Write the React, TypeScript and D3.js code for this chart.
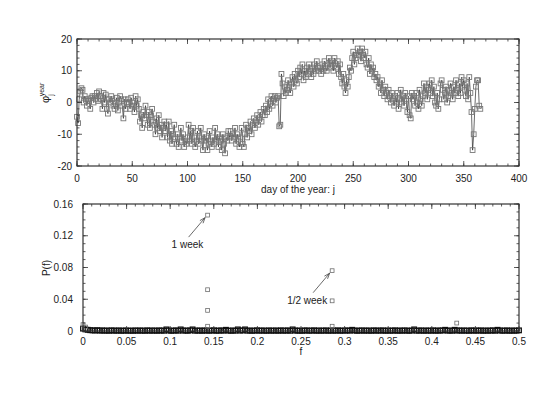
import React from "react";
import * as d3 from "d3";

// ---- Top panel: daily values phi_j^year, days 0..365 ----
const dailyPhi: number[] = [
  -4.5, -6.5, 1, 3.5, 4.5, 4, 0, 2, 1, -1,
  1, 0.5, -2, 1.5, 2, 0, 2, 1, 3, 0.5,
  3.5, 2, 1, -2, 3, 0, 2.5, -2, -3.5, 1,
  0, 2, 1, -1, -2, 0, 1.5, -2.5, 0, 2,
  1, -1, -5, 1, -2, 0, 1, 0, -2, 1.5,
  0, -1, -3, 2, -1, 1, -2, -6, -4, -8,
  -3, -5, -1, -4, -7, -3, -8, -4, -2, -6,
  -7, -10, -5, -8, -4, -9, -7, -11, -8, -6,
  -9, -7, -11, -6, -12, -9, -13, -10, -7, -11,
  -13, -10, -14, -11, -8, -12, -10, -14, -12, -13,
  -11, -7, -12, -9, -13, -8, -11, -14, -12, -9,
  -13, -11, -8, -12, -15, -10, -12, -11, -15, -13,
  -9, -12, -14, -11, -13, -8, -12, -10, -14, -11,
  -12, -15, -10, -13, -16, -11, -12, -9, -11, -9,
  -12, -10, -11, -8, -13, -10, -12, -14, -11, -8,
  -13, -14, -10, -7, -11, -8, -9, -6, -10, -7,
  -5, -8, -6, -4, -7, -5, -3, -6, -4, -2,
  -4, -1, -3, 1, -2, 0, 2, -1, 1, 2,
  0, 1.5, 2, -7.5, -7, 9, 6, 2, 5, 3,
  4, 7, 5, 3, 6, 8, 5, 9, 7, 6,
  10, 8, 11, 9, 12, 7, 10, 8, 11, 9,
  12, 10, 8, 11, 9, 12, 10, 13, 11, 10,
  11, 9, 12, 10, 13, 11, 10, 12, 14, 11,
  12, 13, 10, 14, 12, 11, 13, 9, 12, 8,
  6, 9, 5, 3, 7, 5, 8, 11, 10, 14,
  16, 12, 14, 15, 17, 15, 16, 13, 17, 15,
  14, 16, 12, 11, 14, 9, 12, 10, 11, 8,
  9, 7, 8, 5, 6, 3, 7, 4, 2, 5,
  3, 1, 4, 2, 0, 3, 1, -1, 2, 0,
  3, -2, 1, 4, 0, 2, -1, 3, 1, -3,
  2, -4, -5, 3, 1, 2, -1, 3, 0, -2,
  4, 1, -1, 2, 6, 3, 5, 1, 4, 6,
  3, 7, 2, 5, 0, -1, 3, -2, 1, 6,
  7, 4, 1, 3, 5, 0, 2, 4, 6, 3,
  1, 5, 3, 7, 4, 2, 6, 3, 8, 5,
  7, 4, 2, 6, 1, 8, 3, -3, -15, -10,
  -2, 5, 7, 7, -1, -2,
];

const topXTicks = [0, 50, 100, 150, 200, 250, 300, 350, 400];
const topYTicks = [-20, -10, 0, 10, 20];

// ---- Bottom panel: power spectrum P(f) ----
// background spectrum, in units of 1e-3, at f = k/366, k = 0..183
const bgPowerMilli: number[] = [
  3, 2, 1.5, 1, 0.8, 0.6, 1, 0.5, 0.7, 0.4, 0.6, 0.3, 0.8, 0.5, 0.4, 0.7, 0.3, 0.5, 0.6, 0.4,
  0.5, 0.3, 0.7, 0.4, 0.6, 0.5, 0.3, 0.8, 0.4, 0.5, 0.6, 0.3, 0.7, 0.5, 0.4, 2, 0.6, 0.3, 0.5, 0.7,
  0.4, 2, 0.5, 0.6, 0.3, 0.8, 2, 0.4, 0.5, 0.6, 0.3, 0.7, 0.5, 0.4, 0.6, 0.8, 0.3, 0.5, 0.7, 0.4,
  1.5, 0.5, 0.3, 0.6, 0.4, 2, 0.5, 0.7, 2, 0.4, 0.6, 0.3, 0.5, 0.8, 0.4, 0.6, 0.5, 0.3, 0.7, 0.4,
  0.5, 0.6, 0.3, 0.8, 0.4, 0.5, 0.7, 0.3, 2, 0.6, 0.4, 0.5, 0.3, 0.7, 0.6, 0.4, 0.5, 0.8, 0.3, 0.6,
  0.4, 0.5, 0.7, 0.3, 0.6, 0.5, 0.4, 0.8, 0.3, 0.6, 0.5, 0.7, 0.4, 1.5, 0.6, 0.3, 0.5, 0.7, 0.4, 0.6,
  0.5, 0.3, 0.8, 0.4, 0.6, 0.5, 0.7, 0.3, 0.6, 0.4, 0.5, 0.8, 0.3, 0.6, 0.4, 0.7, 0.5, 0.3, 0.6, 2,
  0.4, 0.5, 0.7, 0.3, 0.6, 0.5, 0.4, 0.8, 0.3, 0.6, 0.5, 0.7, 1.5, 0.4, 0.6, 0.3, 1.5, 0.5, 0.7, 0.4,
  0.6, 0.5, 0.3, 0.8, 0.4, 0.6, 0.5, 0.7, 0.3, 0.6, 0.4, 0.5, 0.8, 0.3, 1.5, 0.6, 0.4, 0.5, 0.7, 0.3,
  0.6, 0.4, 0.5, 0.8,
];
const N_DAYS = 366;

const peakFreq = [0, 0.003, 0.1429, 0.1429, 0.1429, 0.1429, 0.2857, 0.2857, 0.2857, 0.4286];
const peakPower = [0.008, 0.005, 0.146, 0.052, 0.026, 0.006, 0.076, 0.038, 0.006, 0.01];

const botXTicks = [0, 0.05, 0.1, 0.15, 0.2, 0.25, 0.3, 0.35, 0.4, 0.45, 0.5];
const botXLabels = ["0", "0.05", "0.1", "0.15", "0.2", "0.25", "0.3", "0.35", "0.4", "0.45", "0.5"];
const botYTicks = [0, 0.04, 0.08, 0.12, 0.16];
const botYLabels = ["0", "0.04", "0.08", "0.12", "0.16"];

const annotations = [
  { label: "1 week", f: 0.1429, p: 0.146 },
  { label: "1/2 week", f: 0.2857, p: 0.076 },
];

const FONT = "'Liberation Sans', Arial, Helvetica, sans-serif";
const TXT = "#222";
const FRAME = "#333";

type Frame = { l: number; r: number; t: number; b: number };

function FrameTicks({
  fr, xs, ys, xMajor, xMinor, yMajor, yMinor,
}: {
  fr: Frame; xs: d3.ScaleLinear<number, number>; ys: d3.ScaleLinear<number, number>;
  xMajor: number[]; xMinor: number[]; yMajor: number[]; yMinor: number[];
}) {
  const M = 5, m = 2.5;
  const lines: JSX.Element[] = [];
  let i = 0;
  const addX = (v: number, len: number) => {
    const x = xs(v);
    lines.push(<line key={i++} x1={x} x2={x} y1={fr.b} y2={fr.b - len} />);
    lines.push(<line key={i++} x1={x} x2={x} y1={fr.t} y2={fr.t + len} />);
  };
  const addY = (v: number, len: number) => {
    const y = ys(v);
    lines.push(<line key={i++} x1={fr.l} x2={fr.l + len} y1={y} y2={y} />);
    lines.push(<line key={i++} x1={fr.r} x2={fr.r - len} y1={y} y2={y} />);
  };
  xMinor.forEach((v) => addX(v, m));
  xMajor.forEach((v) => addX(v, M));
  yMinor.forEach((v) => addY(v, m));
  yMajor.forEach((v) => addY(v, M));
  return (
    <g stroke={FRAME} strokeWidth={0.8}>
      {lines}
      <rect x={fr.l} y={fr.t} width={fr.r - fr.l} height={fr.b - fr.t} fill="none" strokeWidth={1.2} />
    </g>
  );
}

export default function App() {
  const W = 548, H = 393;

  // top panel
  const tf: Frame = { l: 77, r: 519, t: 39, b: 166 };
  const tx = d3.scaleLinear().domain([0, 400]).range([tf.l, tf.r]);
  const ty = d3.scaleLinear().domain([-20, 20]).range([tf.b, tf.t]);
  const topLine = d3.line<number>().x((_, i) => tx(i)).y((d) => ty(d))(dailyPhi) || "";

  // bottom panel
  const bf: Frame = { l: 83, r: 519, t: 204, b: 331 };
  const bx = d3.scaleLinear().domain([0, 0.5]).range([bf.l, bf.r]);
  const by = d3.scaleLinear().domain([0, 0.16]).range([bf.b, bf.t]);

  const topXMinor = d3.range(0, 401, 10);
  const topYMinor = d3.range(-20, 21, 2);
  const botXMinor = d3.range(0, 51, 1).map((v) => v / 100);
  const botYMinor = d3.range(0, 17, 1).map((v) => v / 100);

  const bgPts = bgPowerMilli.map((p, k) => ({ f: k / N_DAYS, p: p / 1000 }));
  const pkPts = peakFreq.map((f, i) => ({ f, p: peakPower[i] }));

  const s1 = 4.8; // top square size
  const s2 = 3.8; // bottom square size
  const s3 = 4.6; // background band square size

  const arrow = (x1: number, y1: number, x2: number, y2: number, key: string) => {
    const ang = Math.atan2(y2 - y1, x2 - x1);
    const L = 6, a = 0.35;
    const p1 = [x2 - L * Math.cos(ang - a), y2 - L * Math.sin(ang - a)];
    const p2 = [x2 - L * Math.cos(ang + a), y2 - L * Math.sin(ang + a)];
    return (
      <g key={key} stroke="#444" strokeWidth={0.8} fill="none">
        <line x1={x1} y1={y1} x2={x2} y2={y2} />
        <polyline points={`${p1[0]},${p1[1]} ${x2},${y2} ${p2[0]},${p2[1]}`} />
      </g>
    );
  };

  return (
    <svg width={W} height={H} style={{ position: "absolute", left: 0, top: 0, background: "#fff" }}
      fontFamily={FONT}>
      <rect x={0} y={0} width={W} height={H} fill="#fff" />

      {/* ---------- TOP PANEL ---------- */}
      <path d={topLine} fill="none" stroke="#2a2a2a" strokeWidth={0.7} />
      <g fill="none" stroke="#777" strokeWidth={0.9}>
        {dailyPhi.map((v, i) => (
          <rect key={i} x={tx(i) - s1 / 2} y={ty(v) - s1 / 2} width={s1} height={s1} />
        ))}
      </g>
      <FrameTicks fr={tf} xs={tx} ys={ty} xMajor={topXTicks} xMinor={topXMinor}
        yMajor={topYTicks} yMinor={topYMinor} />
      <g fontSize={10} fill={TXT}>
        {topXTicks.map((t) => (
          <text key={t} x={tx(t)} y={182} textAnchor="middle">{t}</text>
        ))}
        {topYTicks.map((t) => (
          <text key={t} x={72} y={ty(t) + 3.5} textAnchor="end">{t}</text>
        ))}
        <text x={(tf.l + tf.r) / 2} y={193} textAnchor="middle">day of the year: j</text>
        <text transform="translate(49,103) rotate(-90)" fontSize={11}>
          <tspan>φ</tspan>
          <tspan fontSize={7} dy={3.5}>j</tspan>
          <tspan fontSize={7} dx={-2} dy={-9}>year</tspan>
        </text>
      </g>

      {/* ---------- BOTTOM PANEL ---------- */}
      <g fill="none" stroke="#111" strokeWidth={1.3}>
        {bgPts.map((d, i) => (
          <rect key={"b" + i} x={bx(d.f) - s3 / 2} y={by(d.p) - s3 / 2} width={s3} height={s3} />
        ))}
      </g>
      <g fill="none" stroke="#6e6e6e" strokeWidth={0.8}>
        {pkPts.map((d, i) => (
          <rect key={"p" + i} x={bx(d.f) - s2 / 2} y={by(d.p) - s2 / 2} width={s2} height={s2} />
        ))}
      </g>
      <FrameTicks fr={bf} xs={bx} ys={by} xMajor={botXTicks} xMinor={botXMinor}
        yMajor={botYTicks} yMinor={botYMinor} />
      <g fontSize={10} fill={TXT}>
        {botXTicks.map((t, i) => (
          <text key={t} x={bx(t)} y={345} textAnchor="middle">{botXLabels[i]}</text>
        ))}
        {botYTicks.map((t, i) => (
          <text key={t} x={73} y={by(t) + 3.5} textAnchor="end">{botYLabels[i]}</text>
        ))}
        <text x={(bf.l + bf.r) / 2} y={355} textAnchor="middle">f</text>
        <text transform="translate(50,268) rotate(-90)" textAnchor="middle">P(f)</text>
      </g>

      {/* annotations */}
      {annotations.map((a, i) => {
        const px = bx(a.f), py = by(a.p);
        const tx0 = px - 19;
        const ty0 = py + 22;
        return (
          <g key={a.label}>
            {arrow(tx0, ty0, px - 2.5, py + 2.5, "ar" + i)}
            <text x={i === 0 ? px - 36 : px - 45} y={py + 33} fontSize={10} fill={TXT}>{a.label}</text>
          </g>
        );
      })}
    </svg>
  );
}
